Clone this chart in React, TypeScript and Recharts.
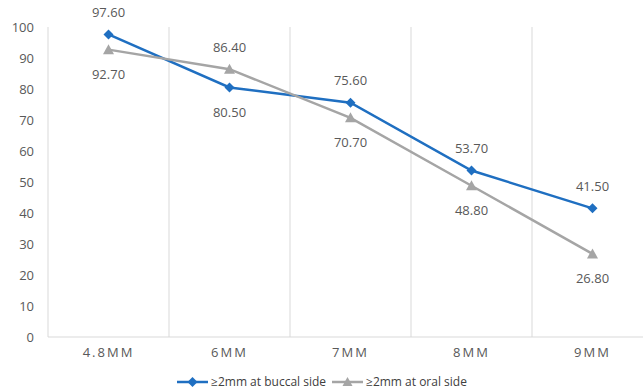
import { LineChart, Line, XAxis, YAxis, CartesianGrid, LabelList } from "recharts";

const categories = ["4.8MM", "6MM", "7MM", "8MM", "9MM"];
const buccal = [97.6, 80.5, 75.6, 53.7, 41.5];
const oral = [92.7, 86.4, 70.7, 48.8, 26.8];
const yTicks = [0, 10, 20, 30, 40, 50, 60, 70, 80, 90, 100];

const BLUE = "#1f6fc1";
const GRAY = "#a5a5a5";
const TEXT = "#595959";
const FONT = "'Open Sans', sans-serif";

const data = categories.map((name, i) => ({ name, buccal: buccal[i], oral: oral[i] }));

const Diamond = (props: any) => {
  const { cx, cy } = props;
  if (cx == null || cy == null) return null;
  const r = 5;
  return <path d={`M${cx},${cy - r}L${cx + r},${cy}L${cx},${cy + r}L${cx - r},${cy}Z`} fill={BLUE} />;
};

const Triangle = (props: any) => {
  const { cx, cy } = props;
  if (cx == null || cy == null) return null;
  return <path d={`M${cx},${cy - 5.5}L${cx + 5.5},${cy + 4.5}L${cx - 5.5},${cy + 4.5}Z`} fill={GRAY} />;
};

// higher of the two values gets its label above, the lower one below
const makeLabel = (own: number[], other: number[]) => (props: any) => {
  const { x, y, index, value } = props;
  const above = own[index] >= other[index];
  return (
    <text
      x={x}
      y={above ? y - 21 : y + 26}
      textAnchor="middle"
      dominantBaseline="middle"
      fill={TEXT}
      fontSize={13}
      fontFamily={FONT}
    >
      {Number(value).toFixed(2)}
    </text>
  );
};

function LegendItem({ color, marker, label }: { color: string; marker: "d" | "t"; label: string }) {
  return (
    <span style={{ display: "inline-flex", alignItems: "center", marginRight: 6 }}>
      <svg width={31} height={12}>
        <line x1={0} y1={6} x2={31} y2={6} stroke={color} strokeWidth={2.5} />
        {marker === "d" ? (
          <path d="M15.5,1L20.5,6L15.5,11L10.5,6Z" fill={color} />
        ) : (
          <path d="M15.5,1L20.5,10L10.5,10Z" fill={color} />
        )}
      </svg>
      <span style={{ marginLeft: 3 }}>{label}</span>
    </span>
  );
}

export default function App() {
  return (
    <div
      style={{
        position: "fixed",
        left: 0,
        top: 0,
        width: 643,
        height: 391,
        overflow: "hidden",
        background: "#fff",
        fontFamily: FONT,
      }}
    >
      <LineChart width={653} height={391} data={data} margin={{ top: 27, right: 0, left: 0, bottom: 0 }}>
        <CartesianGrid
          horizontal={false}
          stroke="#d9d9d9"
          verticalCoordinatesGenerator={({ offset }: any) =>
            categories.map((_, i) => offset.left + (i * offset.width) / categories.length).concat(offset.left + offset.width)
          }
        />
        <XAxis
          dataKey="name"
          scale="band"
          height={54}
          axisLine={{ stroke: "#d9d9d9" }}
          tickLine={false}
          tickSize={0}
          tickMargin={11}
          tick={{ fill: TEXT, fontSize: 13, fontFamily: FONT, letterSpacing: 2 }}
          interval={0}
        />
        <YAxis
          width={48}
          domain={[0, 100]}
          ticks={yTicks}
          axisLine={false}
          tickLine={false}
          tickSize={0}
          tickMargin={14}
          tick={{ fill: TEXT, fontSize: 13, fontFamily: FONT }}
        />
        <Line
          dataKey="buccal"
          stroke={BLUE}
          strokeWidth={2.5}
          dot={<Diamond />}
          activeDot={false}
          isAnimationActive={false}
        >
          <LabelList dataKey="buccal" content={makeLabel(buccal, oral)} />
        </Line>
        <Line
          dataKey="oral"
          stroke={GRAY}
          strokeWidth={2.5}
          dot={<Triangle />}
          activeDot={false}
          isAnimationActive={false}
        >
          <LabelList dataKey="oral" content={makeLabel(oral, buccal)} />
        </Line>
      </LineChart>
      <div
        style={{
          position: "absolute",
          top: 374,
          left: 0,
          width: 650,
          textAlign: "center",
          fontSize: 12,
          color: "#404040",
          lineHeight: "16px",
        }}
      >
        <LegendItem color={BLUE} marker="d" label="≥2mm at buccal side" />
        <LegendItem color={GRAY} marker="t" label="≥2mm at oral side" />
      </div>
    </div>
  );
}
